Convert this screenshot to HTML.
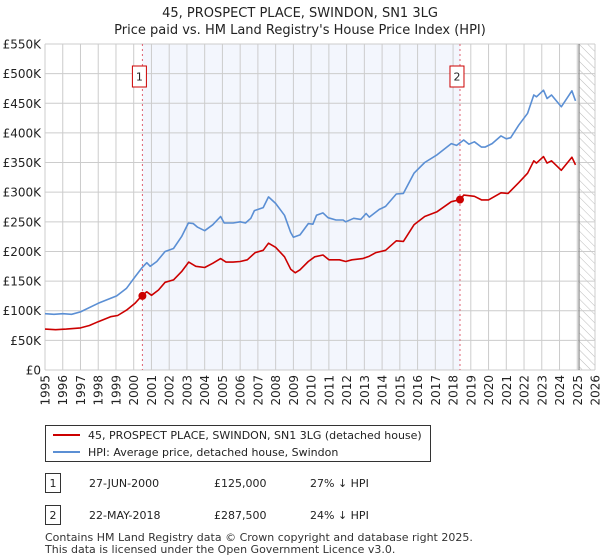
<!DOCTYPE html>
<html><head><meta charset="utf-8"><style>
body{margin:0;background:#fff;font-family:"DejaVu Sans","Liberation Sans",sans-serif;}
#wrap{position:relative;width:600px;height:560px;overflow:hidden}
</style></head><body><div id="wrap">
<svg id="svg" width="600" height="560" xmlns="http://www.w3.org/2000/svg" font-family="DejaVu Sans, Liberation Sans, sans-serif"></svg>
</div>
<script>
const hpiYears=[1995,1995.5,1996,1996.5,1997,1998,1999.04,1999.6,2000.07,2000.45,2000.74,2000.93,2001.3,2001.77,2002.24,2002.7,2003.08,2003.36,2003.6,2004.0,2004.45,2004.9,2005.1,2005.6,2006.0,2006.3,2006.6,2006.8,2007.3,2007.6,2008.0,2008.5,2008.85,2009.0,2009.37,2009.84,2010.1,2010.3,2010.67,2010.95,2011.4,2011.8,2011.95,2012.4,2012.8,2013.1,2013.28,2013.84,2014.2,2014.8,2015.2,2015.8,2016.4,2017.1,2017.9,2018.2,2018.6,2018.9,2019.2,2019.6,2019.8,2020.2,2020.7,2021.0,2021.25,2021.7,2022.2,2022.55,2022.7,2023.1,2023.3,2023.55,2024.1,2024.7,2024.9];
const hpiValues=[95,94,95,94,98,112.5,125,138,157,172,181,175,183,200,205,225,248,247,241,235,245,259,248,248,250,248,256,269,274,292,281,261,232,224,228,247,246,261,265,257,253,253,250,256,254,264,258,271,276,297,298,332,350,363,382,379,388,381,385,376,376,382,395,390,392,413,433,464,461,472,458,464,444,471,454];
const ppYears=[1995,1995.6,1996.2,1997,1997.5,1998,1998.7,1999.1,1999.6,2000.07,2000.45,2000.74,2001,2001.4,2001.77,2002.24,2002.7,2003.1,2003.5,2004.0,2004.45,2004.9,2005.2,2005.6,2006.0,2006.4,2006.85,2007.3,2007.6,2008.0,2008.5,2008.85,2009.1,2009.37,2009.84,2010.2,2010.67,2011.0,2011.6,2011.95,2012.3,2012.9,2013.28,2013.65,2014.2,2014.8,2015.2,2015.8,2016.4,2017.1,2017.9,2018.4,2018.6,2019.2,2019.6,2020.0,2020.7,2021.1,2021.7,2022.2,2022.55,2022.7,2023.1,2023.3,2023.55,2024.1,2024.7,2024.9];
const ppValues=[69,68,69,71,75,81.5,90,92,101,112.5,125,132,126,135,148,152,166,182,175,173,180,188,182,182,183,186,198,202,214,207,191,170,164,169,183,191,194,186,186,183,186,188,192,198,202,218,217,245,259,267,284,287.5,295,293,287,287,299,298,316,332,353,349,360,349,353,337,359,346];
const saleYears=[2000.49,2018.39];
const salePrices=[125,287.5];
const saleLabels=["1","2"];
const yTicks=[0,50,100,150,200,250,300,350,400,450,500,550];
const yTickLabels=["£0","£50K","£100K","£150K","£200K","£250K","£300K","£350K","£400K","£450K","£500K","£550K"];
const xTicks=[1995,1996,1997,1998,1999,2000,2001,2002,2003,2004,2005,2006,2007,2008,2009,2010,2011,2012,2013,2014,2015,2016,2017,2018,2019,2020,2021,2022,2023,2024,2025,2026];

const L=45,R=595,T=44,B=370;
const X=y=>L+(y-1995)/31*(R-L);
const Y=v=>B-v/550*(B-T);
const svg=document.getElementById('svg');const NS='http://www.w3.org/2000/svg';
function mk(t,a,p){const e=document.createElementNS(NS,t);for(const k in a)e.setAttribute(k,a[k]);(p||svg).appendChild(e);return e;}
const defs=mk('defs',{});
const pat=mk('pattern',{id:'hatch',width:6,height:6,patternUnits:'userSpaceOnUse',patternTransform:'rotate(-45)'},defs);
mk('line',{x1:0,y1:0,x2:0,y2:6,stroke:'#bbb','stroke-width':1},pat);
let e=mk('rect',{x:X(saleYears[0]),y:T,width:X(saleYears[1])-X(saleYears[0]),height:B-T,fill:'#f3f6fd'});

e=mk('rect',{x:X(2025.1),y:T,width:R-X(2025.1),height:B-T,fill:'url(#hatch)'});

xTicks.forEach(t=>{const g=mk('line',{x1:X(t),x2:X(t),y1:T,y2:B,stroke:'#cccccc','stroke-width':1});

const tx=mk('text',{x:0,y:0,transform:`translate(${X(t)+4.5},${B+5}) rotate(-90)`,'text-anchor':'end','font-size':12,fill:'#222'});tx.textContent=t;
});
yTicks.forEach((t,i)=>{const g=mk('line',{x1:L,x2:R,y1:Y(t),y2:Y(t),stroke:'#cccccc','stroke-width':1});

const tx=mk('text',{x:L-4,y:Y(t)+4.5,'text-anchor':'end','font-size':12,fill:'#222'});tx.textContent=yTickLabels[i];
});
e=mk('line',{x1:X(2025.1),x2:X(2025.1),y1:T,y2:B,stroke:'#888','stroke-width':1.2});

saleYears.forEach((s,i)=>{const l=mk('line',{x1:X(s),x2:X(s),y1:T,y2:B,stroke:'#e06070','stroke-width':1,'stroke-dasharray':'2,3'});

const r=mk('rect',{x:X(s)-10,y:66,width:14,height:21,fill:'#fff',stroke:'#cc0000','stroke-width':1});

const t=mk('text',{x:X(s)-3,y:80.5,'text-anchor':'middle','font-size':11,fill:'#222'});t.textContent=saleLabels[i];
});
function line(xs,vs,c,n){const p=mk('polyline',{points:xs.map((x,i)=>X(x).toFixed(1)+','+Y(vs[i]).toFixed(1)).join(' '),fill:'none',stroke:c,'stroke-width':1.6,'stroke-linejoin':'round'});
}
line(hpiYears,hpiValues,'#5b8fd4','hpi-line');
line(ppYears,ppValues,'#cc0000','price-paid-line');
saleYears.forEach((s,i)=>{const c=mk('circle',{cx:X(s),cy:Y(salePrices[i]),r:4,fill:'#cc0000'});
});
e=mk('text',{x:300,y:17,'text-anchor':'middle','font-size':13,fill:'#222'});e.textContent='45, PROSPECT PLACE, SWINDON, SN1 3LG';

e=mk('text',{x:300,y:34,'text-anchor':'middle','font-size':13,fill:'#222'});e.textContent="Price paid vs. HM Land Registry's House Price Index (HPI)";

const lg=mk('g',{});
mk('rect',{x:45.5,y:425.5,width:385,height:36,fill:'#fff',stroke:'#333','stroke-width':1},lg);
mk('line',{x1:53,x2:80,y1:435,y2:435,stroke:'#cc0000','stroke-width':2},lg);
mk('line',{x1:53,x2:80,y1:452,y2:452,stroke:'#5b8fd4','stroke-width':2},lg);
e=mk('text',{x:88,y:439,'font-size':11,fill:'#222'},lg);e.textContent='45, PROSPECT PLACE, SWINDON, SN1 3LG (detached house)';

e=mk('text',{x:88,y:456,'font-size':11,fill:'#222'},lg);e.textContent='HPI: Average price, detached house, Swindon';

const rows=[["1","27-JUN-2000","£125,000","27% ↓ HPI",483],["2","22-MAY-2018","£287,500","24% ↓ HPI",515]];
rows.forEach(r=>{const g=mk('g',{});
mk('rect',{x:45.5,y:r[4]-9.5,width:15,height:19,fill:'#fff',stroke:'#333'},g);
let t=mk('text',{x:53,y:r[4]+4,'text-anchor':'middle','font-size':11,fill:'#222'},g);t.textContent=r[0];
t=mk('text',{x:89,y:r[4]+4,'font-size':11,fill:'#222'},g);t.textContent=r[1];
t=mk('text',{x:214,y:r[4]+4,'font-size':11,fill:'#222'},g);t.textContent=r[2];
t=mk('text',{x:310,y:r[4]+4,'font-size':11,fill:'#222'},g);t.textContent=r[3];});
e=mk('text',{x:45,y:541,'font-size':11,fill:'#333'});e.textContent='Contains HM Land Registry data © Crown copyright and database right 2025.';

e=mk('text',{x:45,y:553,'font-size':11,fill:'#333'});e.textContent='This data is licensed under the Open Government Licence v3.0.';

</script></body></html>
